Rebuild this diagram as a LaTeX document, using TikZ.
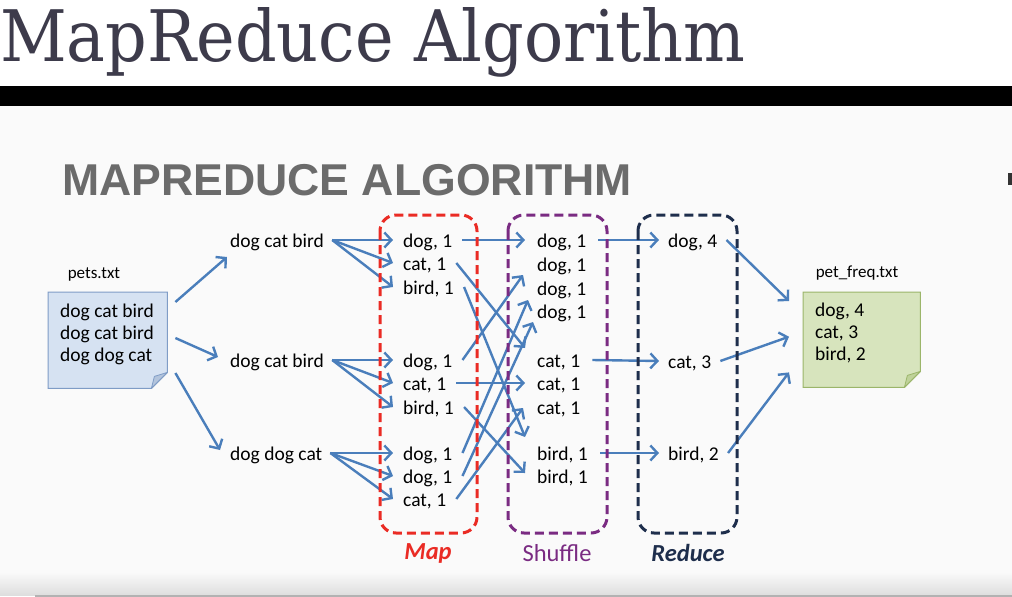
\documentclass[tikz,border=0pt]{standalone}
\usepackage{fontspec}
\setmainfont{Carlito}
\newfontfamily\titlefont{DejaVu Serif}
\newfontfamily\headfont{Liberation Sans}
\usetikzlibrary{arrows.meta}
\definecolor{arrowc}{HTML}{4A7EBB}
\definecolor{slidebg}{HTML}{FAFAFA}
\definecolor{titlec}{HTML}{3D3B4B}
\definecolor{headc}{HTML}{6B6B6B}
\definecolor{mapc}{HTML}{EA2B24}
\definecolor{shufc}{HTML}{7A2B82}
\definecolor{redc}{HTML}{1E2E4C}
\definecolor{petsfill}{HTML}{D6E2F2}
\definecolor{petsdraw}{HTML}{7F9CC6}
\definecolor{petsfold}{HTML}{B3C4DC}
\definecolor{freqfill}{HTML}{D7E4BD}
\definecolor{freqdraw}{HTML}{9BB56A}
\definecolor{freqfold}{HTML}{BFD29A}
\newcommand{\itemfont}{\fontsize{19.5}{22}\selectfont}
\begin{document}
\begin{tikzpicture}[x=1pt,y=-1pt,
  item/.style={font=\itemfont, inner ysep=0pt, text height=18pt, text depth=2.5pt, anchor=west},
  lineitem/.style={item, inner xsep=8pt},
  mapitem/.style={item, inner xsep=10pt},
  shufitem/.style={item, inner xsep=12pt},
  reditem/.style={item, inner xsep=9pt},
  arr/.style={draw=arrowc, line width=2.4pt, -{Straight Barb[length=7pt,width=15pt]}},
  phase/.style={rounded corners=16pt, line width=3pt, dash pattern=on 9pt off 5pt},
  phaselbl/.style={font=\fontsize{24.5}{28}\selectfont, inner sep=0pt},
  filelbl/.style={font=\fontsize{17}{20}\selectfont, inner sep=0pt},
  filebox/.style={anchor=north west, inner sep=0pt}]
\useasboundingbox (0,0) rectangle (1012,597);
% backgrounds
\fill[white] (0,0) rectangle (1012,597);
\fill[slidebg] (0,106) rectangle (1012,572);
\shade[top color=slidebg, bottom color=black!13] (0,572) rectangle (1012,595);
\fill[black] (0,86) rectangle (1012,106);
\draw[black!30, line width=1.5pt] (35,596) -- (1012,596);
\fill[black!80] (1008,173) rectangle (1012,185);
% titles
\node[anchor=base west, inner sep=0pt, text=titlec] (title) at (0,61)
  {\resizebox{745pt}{54pt}{\titlefont MapReduce Algorithm}};
\node[anchor=base west, inner sep=0pt, text=headc, font=\headfont\bfseries\fontsize{44.6}{50}\selectfont] (head) at (62,195) {MAPREDUCE ALGORITHM};
% pets.txt
\node[filebox, minimum width=119pt, minimum height=96pt] (pets) at (48,292) {};
\filldraw[fill=petsfill, draw=petsdraw, line width=1pt] (pets.north west) -- (pets.north east)
  -- ([shift={(0,-16)}]pets.south east) -- ([shift={(-16,0)}]pets.south east) -- (pets.south west) -- cycle;
\filldraw[fill=petsfold, draw=petsdraw, line width=0.8pt, line join=round] ([shift={(0,-16)}]pets.south east)
  -- ([shift={(-13,-12)}]pets.south east) -- ([shift={(-16,0)}]pets.south east) -- cycle;
\node[anchor=north west, align=left, inner sep=0pt, font=\itemfont] (petstext) at (60,304)
  {dog cat bird\\dog cat bird\\dog dog cat};
\node[filelbl] (petslbl) at (94,274) {pets.txt};
% pet_freq.txt
\node[filebox, minimum width=117pt, minimum height=95pt] (freq) at (803,292) {};
\filldraw[fill=freqfill, draw=freqdraw, line width=1pt] (freq.north west) -- (freq.north east)
  -- ([shift={(0,-16)}]freq.south east) -- ([shift={(-16,0)}]freq.south east) -- (freq.south west) -- cycle;
\filldraw[fill=freqfold, draw=freqdraw, line width=0.8pt, line join=round] ([shift={(0,-16)}]freq.south east)
  -- ([shift={(-13,-12)}]freq.south east) -- ([shift={(-16,0)}]freq.south east) -- cycle;
\node[anchor=north west, align=left, inner sep=0pt, font=\itemfont] (freqtext) at (815,303)
  {dog, 4\\cat, 3\\bird, 2};
\node[filelbl] (freqlbl) at (857,273) {pet\_freq.txt};
% input lines
\node[lineitem] (l1) at (222,240) {dog cat bird};
\node[lineitem] (l2) at (222,360) {dog cat bird};
\node[lineitem] (l3) at (222,453) {dog dog cat};
% map outputs
\node[mapitem] (m1) at (393,240) {dog, 1};
\node[mapitem] (m2) at (393,263) {cat, 1};
\node[mapitem] (m3) at (393,287) {bird, 1};
\node[mapitem] (m4) at (393,360) {dog, 1};
\node[mapitem] (m5) at (393,383) {cat, 1};
\node[mapitem] (m6) at (393,407) {bird, 1};
\node[mapitem] (m7) at (393,453) {dog, 1};
\node[mapitem] (m8) at (393,476) {dog, 1};
\node[mapitem] (m9) at (393,499) {cat, 1};
% shuffle outputs
\node[shufitem] (s1) at (525,240) {dog, 1};
\node[shufitem] (s2) at (525,264) {dog, 1};
\node[shufitem] (s3) at (525,288) {dog, 1};
\node[shufitem] (s4) at (525,311) {dog, 1};
\node[shufitem] (s5) at (525,360) {cat, 1};
\node[shufitem] (s6) at (525,383) {cat, 1};
\node[shufitem] (s7) at (525,407) {cat, 1};
\node[shufitem] (s8) at (525,453) {bird, 1};
\node[shufitem] (s9) at (525,476) {bird, 1};
% reduce outputs
\node[reditem] (r1) at (659,240) {dog, 4};
\node[reditem] (r2) at (659,361) {cat, 3};
\node[reditem] (r3) at (659,453) {bird, 2};
% arrows: input file to lines
\draw[arr] ([shift={(8,10)}]pets.north east) -- ([shift={(5,17)}]l1.west);
\draw[arr] ([shift={(8,46)}]pets.north east) -- ([shift={(-4,-3)}]l2.west);
\draw[arr] ([shift={(8,81)}]pets.north east) -- ([shift={(-2,-3)}]l3.west);
% lines to map
\foreach \l/\a/\b/\c in {l1/m1/m2/m3, l2/m4/m5/m6, l3/m7/m8/m9}{
  \draw[arr] (\l.east) -- (\a.west);
  \draw[arr] (\l.east) -- (\b.west);
  \draw[arr] (\l.east) -- (\c.west);
}
% map to shuffle
\draw[arr] (m1.east) -- (s1.west);
\draw[arr] (m2.east) -- ([shift={(0,-12)}]s5.west);
\draw[arr] (m3.east) -- ([shift={(0,-16)}]s8.west);
\draw[arr] (m4.east) -- ([shift={(-2,11)}]s2.west);
\draw[arr] (m5.east) -- (s6.west);
\draw[arr] (m6.east) -- ([shift={(0,-3)}]s9.west);
\draw[arr] (m7.east) -- ([shift={(3,12)}]s3.west);
\draw[arr] (m8.east) -- ([shift={(8,11)}]s4.west);
\draw[arr] (m9.east) -- ([shift={(-2,1)}]s7.west);
% shuffle to reduce
\draw[arr] (s1.east) -- (r1.west);
\draw[arr] (s5.east) -- (r2.west);
\draw[arr] (s8.east) -- (r3.west);
% reduce to output file
\draw[arr] (r1.east) -- ([shift={(-14,9)}]freq.north west);
\draw[arr] (r2.east) -- ([shift={(-14,-3)}]freq.west);
\draw[arr] (r3.east) -- ([shift={(-14,-15)}]freq.south west);
% phase boxes
\draw[phase, draw=mapc] (380,215) rectangle (477,533);
\draw[phase, draw=shufc] (508,215) rectangle (607,533);
\draw[phase, draw=redc] (638,215) rectangle (737,533);
\node[phaselbl, text=mapc] (maplbl) at (428,553) {\bfseries\itshape Map};
\node[phaselbl, text=shufc] (shuflbl) at (557,553) {Shuffle};
\node[phaselbl, text=redc] (redlbl) at (688,553) {\bfseries\itshape Reduce};
\end{tikzpicture}
\end{document}
